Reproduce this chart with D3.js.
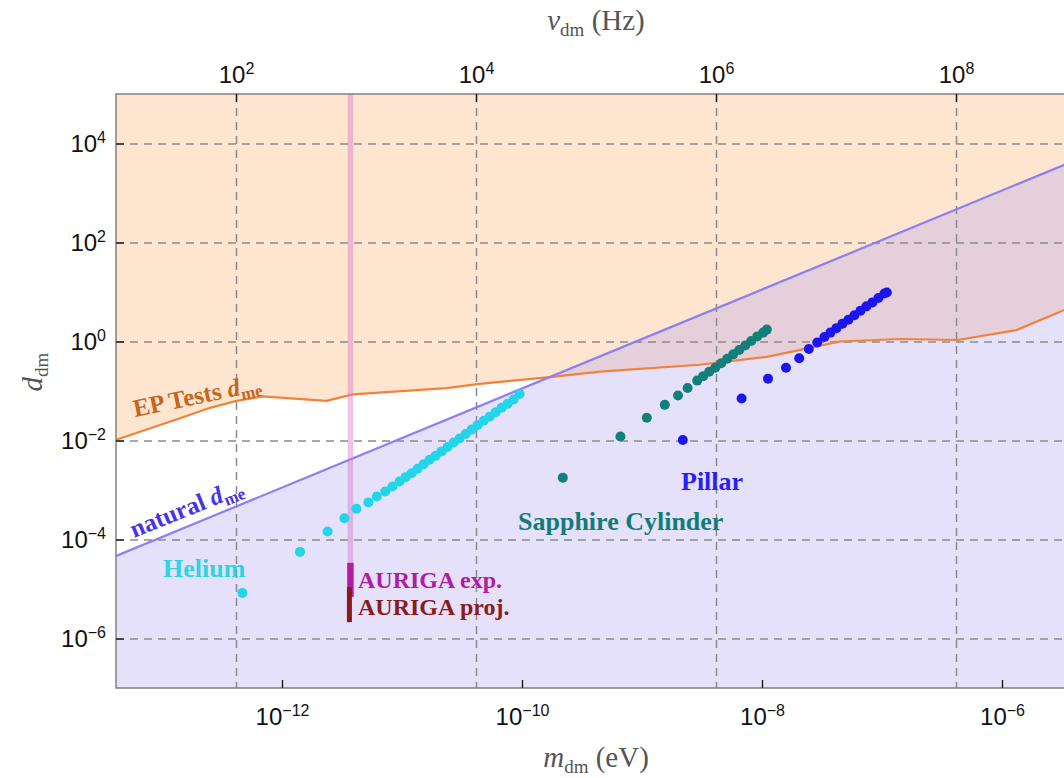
<!DOCTYPE html>
<html>
<head>
<meta charset="utf-8">
<script src="https://cdn.jsdelivr.net/npm/d3@7"></script>
<style>
body { margin: 0; background: #fff; }
svg { display: block; }
.axis text { font-family: "Liberation Sans", Arial, sans-serif; font-size: 24px; fill: #111; }
.axis line { stroke: #111; stroke-width: 1.3; }
.grid line { stroke: #8a8a8a; stroke-width: 1.5; stroke-dasharray: 8,6; }
.title { font-family: "Liberation Serif", "Times New Roman", serif; font-size: 29px; fill: #555; }
.lbl { font-family: "Liberation Serif", "Times New Roman", serif; font-size: 26px; font-weight: bold; }
</style>
</head>
<body>
<script>
// all values are log10 (m in eV, d dimensionless)
var epLogM = [-13.40, -12.85, -12.60, -12.38, -12.16, -11.63, -11.41, -10.63, -10.37, -9.77, -9.35, -8.52, -7.96, -7.68, -7.35, -6.85, -6.37, -5.88, -5.38];
var epLogD = [-2.00, -1.55, -1.34, -1.20, -1.11, -1.20, -1.07, -0.94, -0.86, -0.72, -0.61, -0.47, -0.31, -0.17, 0.00, 0.05, 0.03, 0.23, 0.74];

var naturalLogM = [-13.40, -5.38];
var naturalLogD = [-4.35, 3.67];

var heliumLogM = [-12.33, -11.85, -11.62, -11.48, -11.38, -11.28, -11.21, -11.14, -11.08, -11.02, -10.97, -10.92, -10.87, -10.82, -10.77, -10.72, -10.67, -10.62, -10.57, -10.52, -10.47, -10.42, -10.37, -10.32, -10.27, -10.22, -10.17, -10.12, -10.07, -10.02];
var heliumLogD = [-5.08, -4.25, -3.84, -3.57, -3.38, -3.25, -3.13, -3.03, -2.93, -2.83, -2.74, -2.66, -2.57, -2.48, -2.39, -2.31, -2.22, -2.13, -2.04, -1.96, -1.87, -1.78, -1.69, -1.60, -1.52, -1.43, -1.34, -1.26, -1.17, -1.06];

var sapphireLogM = [-9.66, -9.18, -8.96, -8.81, -8.70, -8.62, -8.54, -8.49, -8.44, -8.39, -8.34, -8.29, -8.24, -8.19, -8.14, -8.09, -8.04, -7.99, -7.96];
var sapphireLogD = [-2.75, -1.92, -1.54, -1.28, -1.09, -0.94, -0.79, -0.70, -0.61, -0.53, -0.44, -0.35, -0.26, -0.17, -0.08, 0.01, 0.10, 0.18, 0.24];

var pillarLogM = [-8.66, -8.17, -7.95, -7.80, -7.69, -7.61, -7.54, -7.48, -7.43, -7.38, -7.33, -7.28, -7.23, -7.18, -7.13, -7.08, -7.03, -6.98, -6.96];
var pillarLogD = [-1.99, -1.15, -0.75, -0.53, -0.34, -0.15, -0.02, 0.09, 0.18, 0.27, 0.36, 0.44, 0.53, 0.62, 0.71, 0.79, 0.88, 0.97, 0.99];

var aurigaLogM = -11.43;
var aurigaBandLogD = [5, -4.47];
var aurigaExpLogD = [-4.47, -5.16];
var aurigaProjLogD = [-4.96, -5.67];

var nuTicks = [1e2, 1e4, 1e6, 1e8];
var mTicks = [1e-12, 1e-10, 1e-8, 1e-6];
var dTicks = [1e-6, 1e-4, 1e-2, 1e0, 1e2, 1e4];

var planck = 4.135667e-15; // eV s

var margin = {top: 94, left: 116};
var plotW = 960, plotH = 594;

function toPoints(lm, ld) {
    return lm.map(function(v, i) {
        return {m: Math.pow(10, v), d: Math.pow(10, ld[i])};
    });
}

var ep = toPoints(epLogM, epLogD);
var natural = toPoints(naturalLogM, naturalLogD);
var helium = toPoints(heliumLogM, heliumLogD);
var sapphire = toPoints(sapphireLogM, sapphireLogD);
var pillar = toPoints(pillarLogM, pillarLogD);

var nuScale = d3.scaleLog().domain([1e1, 1e9]).range([0, plotW]);
var mScale = d3.scaleLog().domain([1e1 * planck, 1e9 * planck]).range([0, plotW]);
var dScale = d3.scaleLog().domain([1e-7, 1e5]).range([plotH, 0]);

var root = d3.select("body").append("svg")
    .attr("width", 1064)
    .attr("height", 778);

var svg = root.append("g")
    .attr("transform", "translate(" + margin.left + "," + margin.top + ")");

svg.append("clipPath").attr("id", "clip")
    .append("rect").attr("width", plotW).attr("height", plotH);

var plot = svg.append("g").attr("clip-path", "url(#clip)");

// excluded by EP tests
plot.append("path")
    .datum(ep)
    .attr("fill", "#fee5d0")
    .attr("d", d3.area()
        .x(function(d) { return mScale(d.m); })
        .y0(0)
        .y1(function(d) { return dScale(d.d); }));

// below natural coupling
plot.append("path")
    .datum(natural)
    .attr("fill", "rgb(170,155,242)")
    .attr("fill-opacity", 0.3)
    .attr("d", d3.area()
        .x(function(d) { return mScale(d.m); })
        .y0(plotH)
        .y1(function(d) { return dScale(d.d); }));

// grid
var gx = plot.append("g").attr("class", "grid")
    .call(d3.axisTop(nuScale).tickValues(nuTicks).tickSize(-plotH).tickFormat(""));
gx.select(".domain").remove();
var gy = plot.append("g").attr("class", "grid")
    .call(d3.axisLeft(dScale).tickValues(dTicks).tickSize(-plotW).tickFormat(""));
gy.select(".domain").remove();

var line = d3.line()
    .x(function(d) { return mScale(d.m); })
    .y(function(d) { return dScale(d.d); });

plot.append("path").datum(ep)
    .attr("fill", "none").attr("stroke", "#f2823a").attr("stroke-width", 2.2)
    .attr("d", line);

plot.append("path").datum(natural)
    .attr("fill", "none").attr("stroke", "#8b7ff2").attr("stroke-width", 2.2)
    .attr("d", line);

// AURIGA
var ax = mScale(Math.pow(10, aurigaLogM));
plot.append("line")
    .attr("x1", ax).attr("x2", ax)
    .attr("y1", dScale(Math.pow(10, aurigaBandLogD[0])))
    .attr("y2", dScale(Math.pow(10, aurigaBandLogD[1])))
    .attr("stroke", "rgb(222,120,200)").attr("stroke-opacity", 0.45).attr("stroke-width", 5.5);
plot.append("line")
    .attr("x1", ax).attr("x2", ax)
    .attr("y1", dScale(Math.pow(10, aurigaExpLogD[0])))
    .attr("y2", dScale(Math.pow(10, aurigaExpLogD[1])))
    .attr("stroke", "#b41aa6").attr("stroke-width", 6.5);
plot.append("line")
    .attr("x1", ax - 1).attr("x2", ax - 1)
    .attr("y1", dScale(Math.pow(10, aurigaProjLogD[0])))
    .attr("y2", dScale(Math.pow(10, aurigaProjLogD[1])))
    .attr("stroke", "#8a1b1b").attr("stroke-width", 5);

function dots(data, color) {
    plot.append("g").selectAll("circle")
        .data(data)
        .enter()
        .append("circle")
        .attr("cx", function(d) { return mScale(d.m); })
        .attr("cy", function(d) { return dScale(d.d); })
        .attr("r", 5)
        .attr("fill", color);
}
dots(helium, "#22d5e8");
dots(sapphire, "#11807a");
dots(pillar, "#1d14f2");

// frame
svg.append("rect")
    .attr("width", plotW).attr("height", plotH)
    .attr("fill", "none").attr("stroke", "#888").attr("stroke-width", 1.6);

function powerLabels(sel) {
    sel.selectAll(".tick text").each(function(d) {
        var e = Math.round(Math.log10(d));
        var t = d3.select(this);
        t.text(null);
        t.append("tspan").text("10");
        t.append("tspan").attr("dy", -9).style("font-size", "16px").text(e < 0 ? "\u2212" + (-e) : e);
    });
    sel.select(".domain").remove();
}

svg.append("g").attr("class", "axis")
    .call(d3.axisTop(nuScale).tickValues(nuTicks).tickSize(-8).tickPadding(11))
    .call(powerLabels);

svg.append("g").attr("class", "axis")
    .attr("transform", "translate(0," + plotH + ")")
    .call(d3.axisBottom(mScale).tickValues(mTicks).tickSize(-8).tickPadding(20))
    .call(powerLabels);

svg.append("g").attr("class", "axis")
    .call(d3.axisLeft(dScale).tickValues(dTicks).tickSize(-8).tickPadding(10))
    .call(powerLabels);

// axis titles
var t1 = root.append("text").attr("class", "title")
    .attr("x", 596).attr("y", 30).attr("text-anchor", "middle");
t1.append("tspan").style("font-style", "italic").text("\u03bd");
t1.append("tspan").attr("dy", 6).style("font-size", "19px").text("dm");
t1.append("tspan").attr("dy", -6).text("  (Hz)");

var t2 = root.append("text").attr("class", "title")
    .attr("x", 596).attr("y", 767).attr("text-anchor", "middle");
t2.append("tspan").style("font-style", "italic").text("m");
t2.append("tspan").attr("dy", 6).style("font-size", "19px").text("dm");
t2.append("tspan").attr("dy", -6).text("  (eV)");

var t3 = root.append("text").attr("class", "title")
    .attr("transform", "translate(42,372) rotate(-90)").attr("text-anchor", "middle");
t3.append("tspan").style("font-style", "italic").text("d");
t3.append("tspan").attr("dy", 6).style("font-size", "19px").text("dm");

// curve labels
function dmeLabel(txt, x, y, angle, color) {
    var t = root.append("text").attr("class", "lbl")
        .style("font-size", "25px")
        .attr("transform", "translate(" + x + "," + y + ") rotate(" + angle + ")")
        .attr("fill", color);
    t.append("tspan").text(txt);
    t.append("tspan").style("font-style", "italic").text("d");
    t.append("tspan").attr("dy", 5).style("font-size", "17px").text("me");
}
dmeLabel("EP Tests ", 135, 417, -11.7, "#c4661f");
dmeLabel("natural ", 134, 538, -22, "#4634e6");

function label(txt, x, y, color, size) {
    root.append("text").attr("class", "lbl")
        .attr("x", x).attr("y", y).attr("fill", color)
        .style("font-size", size + "px")
        .text(txt);
}
label("Helium", 163, 577, "#2ed3e6", 26);
label("AURIGA exp.", 358, 588, "#b01ca4", 24);
label("AURIGA proj.", 358, 615, "#8a1c1c", 24);
label("Sapphire Cylinder", 518, 530, "#117c78", 26);
label("Pillar", 681, 490, "#2a1ef2", 26);
</script>
</body>
</html>
